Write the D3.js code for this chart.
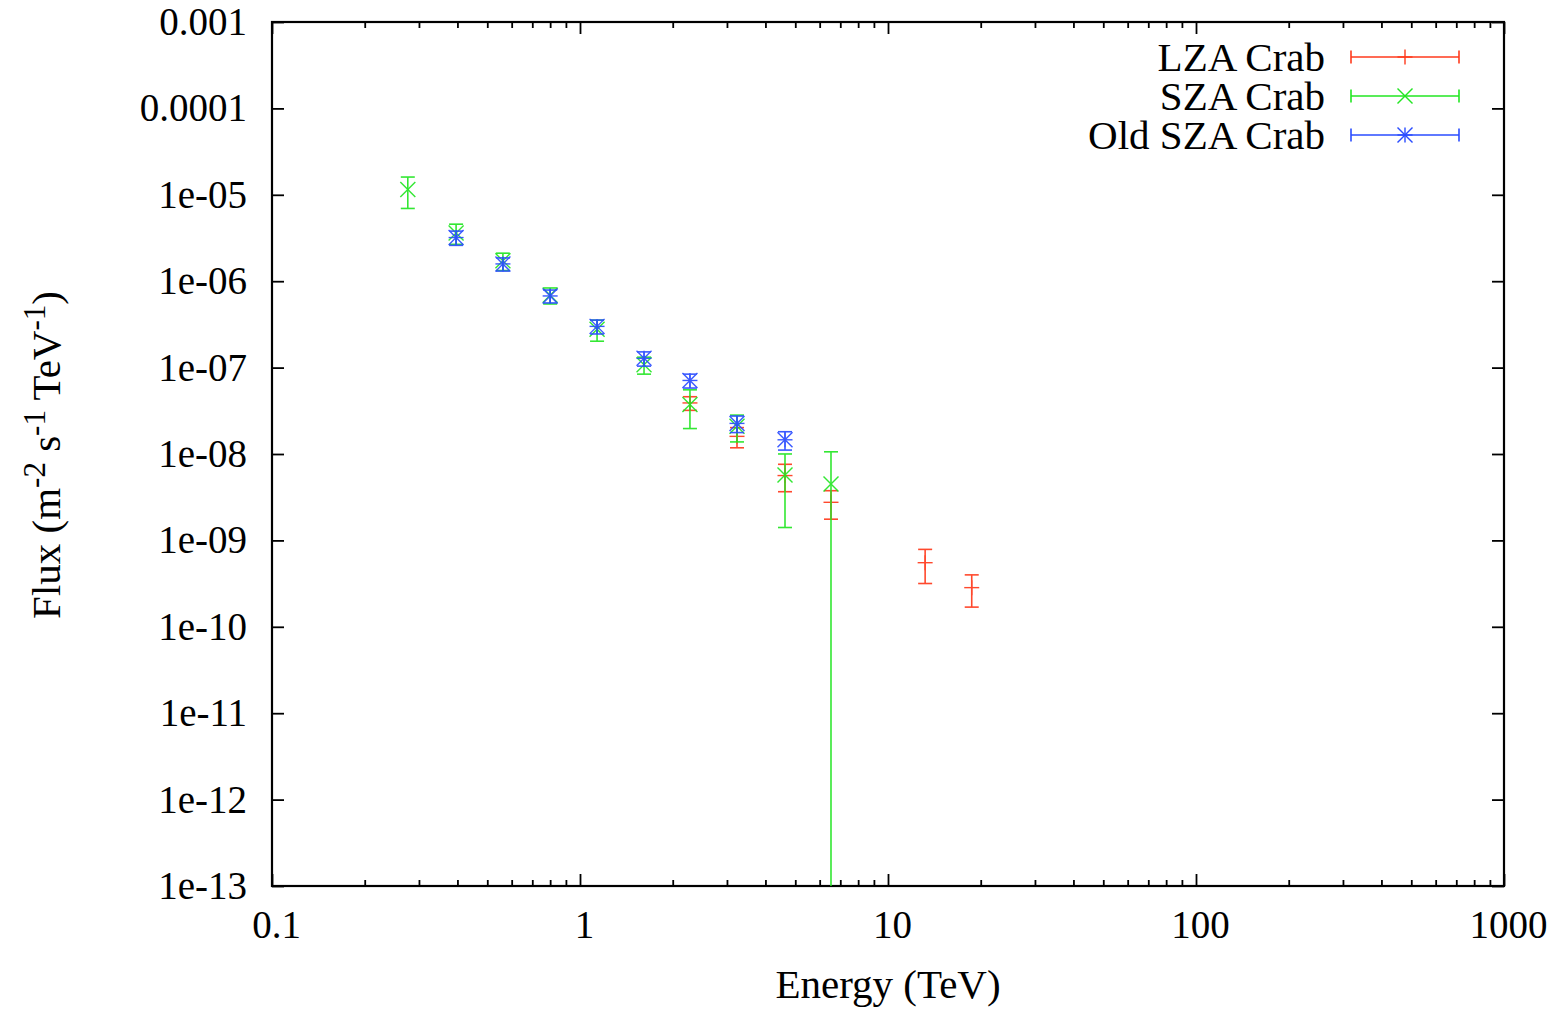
<!DOCTYPE html>
<html>
<head>
<meta charset="utf-8">
<script src="https://cdn.jsdelivr.net/npm/d3@7"></script>
<style>
  html, body { margin: 0; padding: 0; background: #fff; }
  svg { display: block; }
  text { font-family: "Liberation Serif", "Times New Roman", serif; fill: #000; }
</style>
</head>
<body>
<svg id="chart" width="1562" height="1011"></svg>
<script>
// Crab spectrum: flux ± error at each energy bin (TeV, m^-2 s^-1 TeV^-1)
const lzaEnergy = [2.275, 3.234, 4.63, 6.53, 13.2, 18.7];
const lzaFlux   = [3.9e-8, 1.6e-8, 5.63e-9, 2.76e-9, 5.52e-10, 2.84e-10];
const lzaErr    = [0.7e-8, 0.42e-8, 1.97e-9, 1.0e-9, 2.35e-10, 1.15e-10];

const szaEnergy = [0.276, 0.396, 0.562, 0.80, 1.136, 1.614, 2.275, 3.234, 4.63, 6.53];
const szaFlux   = [1.15e-5, 3.62e-6, 1.72e-6, 6.9e-7, 2.78e-7, 1.08e-7, 3.75e-8, 2.1e-8, 5.71e-9, 4.5e-9];
const szaErr    = [4.55e-6, 0.95e-6, 0.39e-6, 1.45e-7, 0.76e-7, 0.24e-7, 1.78e-8, 0.72e-8, 4.3e-9, 6.1e-9];

const oldEnergy = [0.396, 0.562, 0.80, 1.136, 1.614, 2.275, 3.234, 4.63];
const oldFlux   = [3.2e-6, 1.585e-6, 6.75e-7, 3.0e-7, 1.28e-7, 7.1e-8, 2.26e-8, 1.46e-8];
const oldErr    = [0.6e-6, 0.275e-6, 1.15e-7, 0.55e-7, 0.24e-7, 1.3e-8, 0.49e-8, 0.35e-8];

const xTicks = [0.1, 1, 10, 100, 1000];
const xTickLabels = ["0.1", "1", "10", "100", "1000"];
const yTicks = [1e-13, 1e-12, 1e-11, 1e-10, 1e-9, 1e-8, 1e-7, 1e-6, 1e-5, 1e-4, 1e-3];
const yTickLabels = ["1e-13", "1e-12", "1e-11", "1e-10", "1e-09", "1e-08", "1e-07", "1e-06", "1e-05", "0.0001", "0.001"];

const seriesNames = ["LZA Crab", "SZA Crab", "Old SZA Crab"];
const seriesColors = ["#ff3a1c", "#22e622", "#2a4cff"];
const seriesMarkers = ["plus", "cross", "star"];

const series = [
  { energy: lzaEnergy, flux: lzaFlux, err: lzaErr },
  { energy: szaEnergy, flux: szaFlux, err: szaErr },
  { energy: oldEnergy, flux: oldFlux, err: oldErr }
];

const svg = d3.select("#chart");
const plotL = 272, plotR = 1504, plotT = 22, plotB = 886;

const x = d3.scaleLog().domain([0.1, 1000]).range([plotL, plotR]);
const y = d3.scaleLog().domain([1e-13, 1e-3]).range([plotB, plotT]);

// minor x ticks at 2..9 of each decade
const xMinor = [];
for (let d = 0.1; d < 1000; d *= 10) for (let k = 2; k <= 9; k++) xMinor.push(+(d * k).toPrecision(3));

const tickFont = 39;
const axisStyle = g => {
  g.select(".domain").remove();
  g.selectAll(".tick line").attr("stroke", "#000").attr("stroke-width", 1.8);
  g.selectAll(".tick text").attr("font-size", tickFont).attr("font-family", "Liberation Serif, serif").attr("fill", "#000");
};

// bottom axis with labels
svg.append("g").attr("transform", `translate(0,${plotB})`)
  .call(d3.axisBottom(x).tickValues(xTicks).tickFormat((d, i) => xTickLabels[i]).tickSize(-12).tickPadding(24))
  .call(axisStyle)
  .call(g => g.selectAll(".tick text").attr("dx", 4));
svg.append("g").attr("transform", `translate(0,${plotB})`)
  .call(d3.axisBottom(x).tickValues(xMinor).tickFormat("").tickSize(-6))
  .call(axisStyle);
// top mirror
svg.append("g").attr("transform", `translate(0,${plotT})`)
  .call(d3.axisTop(x).tickValues(xTicks).tickFormat("").tickSize(-12))
  .call(axisStyle);
svg.append("g").attr("transform", `translate(0,${plotT})`)
  .call(d3.axisTop(x).tickValues(xMinor).tickFormat("").tickSize(-6))
  .call(axisStyle);
// left axis with labels
svg.append("g").attr("transform", `translate(${plotL},0)`)
  .call(d3.axisLeft(y).tickValues(yTicks).tickFormat((d, i) => yTickLabels[i]).tickSize(-12).tickPadding(25))
  .call(axisStyle);
// right mirror
svg.append("g").attr("transform", `translate(${plotR},0)`)
  .call(d3.axisRight(y).tickValues(yTicks).tickFormat("").tickSize(-12))
  .call(axisStyle);

// frame
svg.append("rect").attr("x", plotL).attr("y", plotT).attr("width", plotR - plotL).attr("height", plotB - plotT)
  .attr("fill", "none").attr("stroke", "#000").attr("stroke-width", 2.2);

// clip to plot area
svg.append("clipPath").attr("id", "plotclip")
  .append("rect").attr("x", plotL).attr("y", plotT).attr("width", plotR - plotL).attr("height", plotB - plotT);

const capHalf = 7, markHalf = 7.5;

function drawMarker(g, type, cx, cy, color) {
  const s = markHalf;
  const segs = [];
  if (type === "plus" || type === "star") {
    segs.push([cx - s, cy, cx + s, cy], [cx, cy - s, cx, cy + s]);
  }
  if (type === "cross" || type === "star") {
    segs.push([cx - s, cy - s, cx + s, cy + s], [cx - s, cy + s, cx + s, cy - s]);
  }
  segs.forEach(p => g.append("line")
    .attr("x1", p[0]).attr("y1", p[1]).attr("x2", p[2]).attr("y2", p[3])
    .attr("stroke", color).attr("stroke-width", 1.4));
}

const plot = svg.append("g").attr("clip-path", "url(#plotclip)");
const [yMin, yMax] = y.domain();

series.forEach((s, si) => {
  const color = seriesColors[si];
  const g = plot.append("g").attr("class", "series-" + si).attr("opacity", 0.92);
  s.energy.forEach((e, i) => {
    const cx = x(e);
    const v = s.flux[i], hiV = v + s.err[i], loV = v - s.err[i];
    const hiY = y(Math.min(hiV, yMax));
    const loClipped = loV <= yMin;
    const loY = loClipped ? y(yMin) + 2 : y(loV);
    g.append("line").attr("x1", cx).attr("x2", cx).attr("y1", hiY).attr("y2", loY)
      .attr("stroke", color).attr("stroke-width", 1.6);
    g.append("line").attr("x1", cx - capHalf).attr("x2", cx + capHalf).attr("y1", hiY).attr("y2", hiY)
      .attr("stroke", color).attr("stroke-width", 1.6);
    if (!loClipped) {
      g.append("line").attr("x1", cx - capHalf).attr("x2", cx + capHalf).attr("y1", loY).attr("y2", loY)
        .attr("stroke", color).attr("stroke-width", 1.6);
    }
    drawMarker(g, seriesMarkers[si], cx, y(v), color);
  });
});

// legend
const legendTextX = 1325, legendY0 = 57, legendStep = 39;
const sampleX1 = 1351, sampleX2 = 1459;
seriesNames.forEach((name, i) => {
  const ly = legendY0 + i * legendStep;
  const color = seriesColors[i];
  svg.append("text").attr("x", legendTextX).attr("y", ly).attr("dy", "0.34em")
    .attr("text-anchor", "end").attr("font-size", 41).text(name);
  const g = svg.append("g");
  g.append("line").attr("x1", sampleX1).attr("x2", sampleX2).attr("y1", ly).attr("y2", ly)
    .attr("stroke", color).attr("stroke-width", 1.6);
  [sampleX1, sampleX2].forEach(px => g.append("line")
    .attr("x1", px).attr("x2", px).attr("y1", ly - 6.5).attr("y2", ly + 6.5)
    .attr("stroke", color).attr("stroke-width", 1.6));
  drawMarker(g, seriesMarkers[i], (sampleX1 + sampleX2) / 2, ly, color);
});

// axis titles
svg.append("text").attr("x", 888).attr("y", 998).attr("text-anchor", "middle")
  .attr("font-size", 41).text("Energy (TeV)");

const yl = svg.append("text").attr("transform", "translate(60,455) rotate(-90)")
  .attr("text-anchor", "middle").attr("font-size", 41);
yl.append("tspan").text("Flux (m");
yl.append("tspan").attr("font-size", 31).attr("dy", -15).text("-2");
yl.append("tspan").attr("dy", 15).text(" s");
yl.append("tspan").attr("font-size", 31).attr("dy", -15).text("-1");
yl.append("tspan").attr("dy", 15).text(" TeV");
yl.append("tspan").attr("font-size", 31).attr("dy", -15).text("-1");
yl.append("tspan").attr("dy", 15).text(")");
</script>
</body>
</html>
